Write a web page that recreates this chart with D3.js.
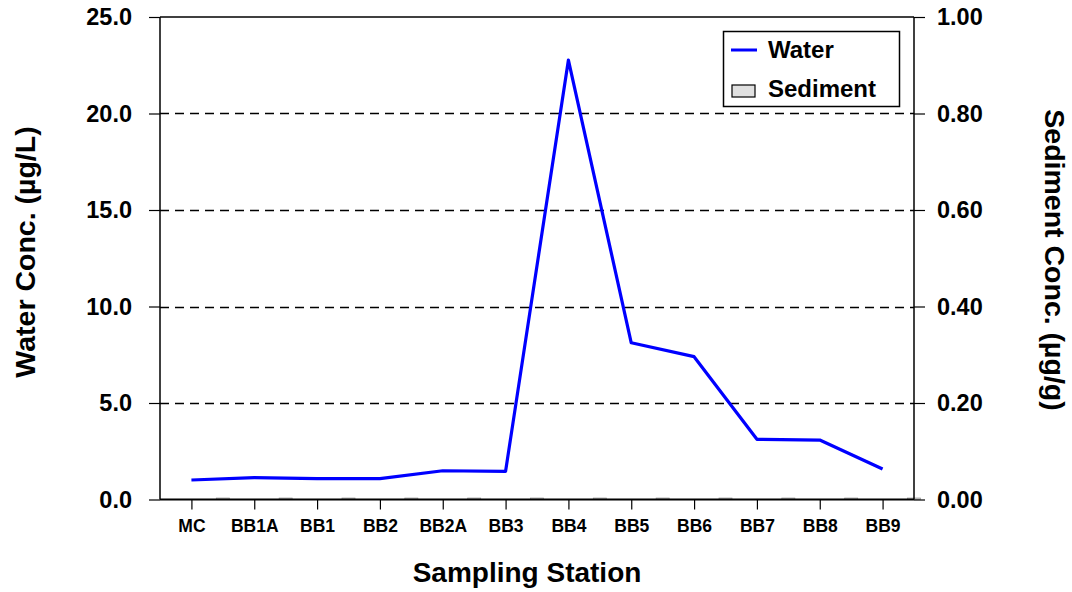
<!DOCTYPE html>
<html>
<head>
<meta charset="utf-8">
<script src="https://cdn.jsdelivr.net/npm/d3@7"></script>
<style>
    body { margin: 0; background: #fff; }
    svg text { font-family: "Liberation Sans", Arial, sans-serif; font-weight: bold; fill: #000; }
</style>
</head>
<body>
<svg id="chart" width="1072" height="592"></svg>
<script>
// stations along the x axis
var stations = ["MC", "BB1A", "BB1", "BB2", "BB2A", "BB3", "BB4", "BB5", "BB6", "BB7", "BB8", "BB9"];
// water concentration (ug/L), left axis
var water = [1.01, 1.13, 1.08, 1.08, 1.49, 1.46, 22.77, 8.12, 7.40, 3.12, 3.08, 1.58];
// sediment concentration (ug/g), right axis - all close to zero
var sediment = [0.003, 0.003, 0.003, 0.003, 0.003, 0.003, 0.003, 0.003, 0.003, 0.003, 0.003, 0.003];
var leftTicks = [0, 5, 10, 15, 20, 25];
var rightTicks = [0, 0.2, 0.4, 0.6, 0.8, 1.0];

var svg = d3.select("#chart"),
    pLeft = 160, pRight = 914, pTop = 17, pBottom = 499.5;

var x = d3.scalePoint()
    .domain(stations)
    .range([pLeft, pRight])
    .padding(0.5);
var step = x.step();

var y = d3.scaleLinear().domain([0, 25]).range([pBottom, pTop]);
var y2 = d3.scaleLinear().domain([0, 1]).range([pBottom, pTop]);

// dashed grid
svg.append("g")
    .selectAll("line")
    .data(leftTicks.filter(function (d) { return d > 0 && d < 25; }))
    .enter().append("line")
    .attr("x1", pLeft).attr("x2", pRight)
    .attr("y1", function (d) { return Math.round(y(d)) + 0.5; })
    .attr("y2", function (d) { return Math.round(y(d)) + 0.5; })
    .attr("stroke", "#000")
    .attr("stroke-width", 1.3)
    .attr("stroke-dasharray", "9,6");

// sediment bars (tiny)
svg.append("g")
    .selectAll("rect")
    .data(sediment)
    .enter().append("rect")
    .attr("x", function (d, i) { return x(stations[i]) + step / 2 - 6.5; })
    .attr("width", 13)
    .attr("y", function (d) { return y2(d); })
    .attr("height", function (d) { return pBottom - y2(d); })
    .attr("fill", "#c8c8c8")
    .attr("stroke", "#999")
    .attr("stroke-width", 0.8);

// top border
svg.append("line")
    .attr("x1", pLeft).attr("x2", pRight)
    .attr("y1", pTop).attr("y2", pTop)
    .attr("stroke", "#000").attr("stroke-width", 1.5);

var yAxis = svg.append("g")
    .attr("transform", "translate(" + pLeft + ",0)")
    .call(d3.axisLeft(y).tickValues(leftTicks).tickSize(11).tickPadding(17)
        .tickFormat(d3.format(".1f")));

var yAxis2 = svg.append("g")
    .attr("transform", "translate(" + pRight + ",0)")
    .call(d3.axisRight(y2).tickValues(rightTicks).tickSize(11).tickPadding(12)
        .tickFormat(d3.format(".2f")));

var xAxis = svg.append("g")
    .attr("transform", "translate(0," + pBottom + ")")
    .call(d3.axisBottom(x).tickSize(10).tickPadding(10));

[yAxis, yAxis2, xAxis].forEach(function (a) {
    a.select(".domain").attr("stroke", "#000").attr("stroke-width", 1.5);
    a.selectAll(".tick line").attr("stroke", "#000").attr("stroke-width", 1.2);
});
xAxis.select(".domain").attr("d", "M" + pLeft + ",0H" + pRight).attr("stroke-width", 2);
yAxis.select(".domain").attr("d", "M0," + pTop + "V" + pBottom);
yAxis2.select(".domain").attr("d", "M0," + pTop + "V" + pBottom);

yAxis.selectAll(".tick text").style("font-size", "23.5px").style("font-family", "Liberation Sans").style("font-weight", "bold");
yAxis2.selectAll(".tick text").style("font-size", "23.5px").style("font-family", "Liberation Sans").style("font-weight", "bold");
xAxis.selectAll(".tick text").style("font-size", "17.5px").style("font-family", "Liberation Sans").style("font-weight", "bold");

// water line
var line = d3.line()
    .x(function (d, i) { return x(stations[i]); })
    .y(function (d) { return y(d); });

svg.append("path")
    .datum(water)
    .attr("d", line)
    .attr("fill", "none")
    .attr("stroke", "#0000ff")
    .attr("stroke-width", 3.2)
    .attr("stroke-linejoin", "round");

// axis titles
svg.append("text")
    .attr("x", 527)
    .attr("y", 582)
    .attr("text-anchor", "middle")
    .style("font-size", "28px")
    .text("Sampling Station");

svg.append("text")
    .attr("transform", "translate(35,252) rotate(-90)")
    .attr("text-anchor", "middle")
    .style("font-size", "28.5px")
    .text("Water Conc. (\u00b5g/L)");

svg.append("text")
    .attr("transform", "translate(1045,260) rotate(90)")
    .attr("text-anchor", "middle")
    .style("font-size", "28.5px")
    .text("Sediment Conc. (\u00b5g/g)");

// legend
var legend = svg.append("g");
legend.append("rect")
    .attr("x", 723.5).attr("y", 31.5)
    .attr("width", 176).attr("height", 75)
    .attr("fill", "#fff").attr("stroke", "#000").attr("stroke-width", 1.5);
legend.append("line")
    .attr("x1", 731).attr("x2", 757).attr("y1", 50).attr("y2", 50)
    .attr("stroke", "#0000ff").attr("stroke-width", 3);
legend.append("text")
    .attr("x", 768).attr("y", 58)
    .style("font-size", "24px")
    .text("Water");
legend.append("rect")
    .attr("x", 732).attr("y", 85)
    .attr("width", 23).attr("height", 12)
    .attr("fill", "#e0e0e0").attr("stroke", "#000").attr("stroke-width", 1.2);
legend.append("text")
    .attr("x", 768).attr("y", 97)
    .style("font-size", "24px")
    .text("Sediment");
</script>
</body>
</html>
